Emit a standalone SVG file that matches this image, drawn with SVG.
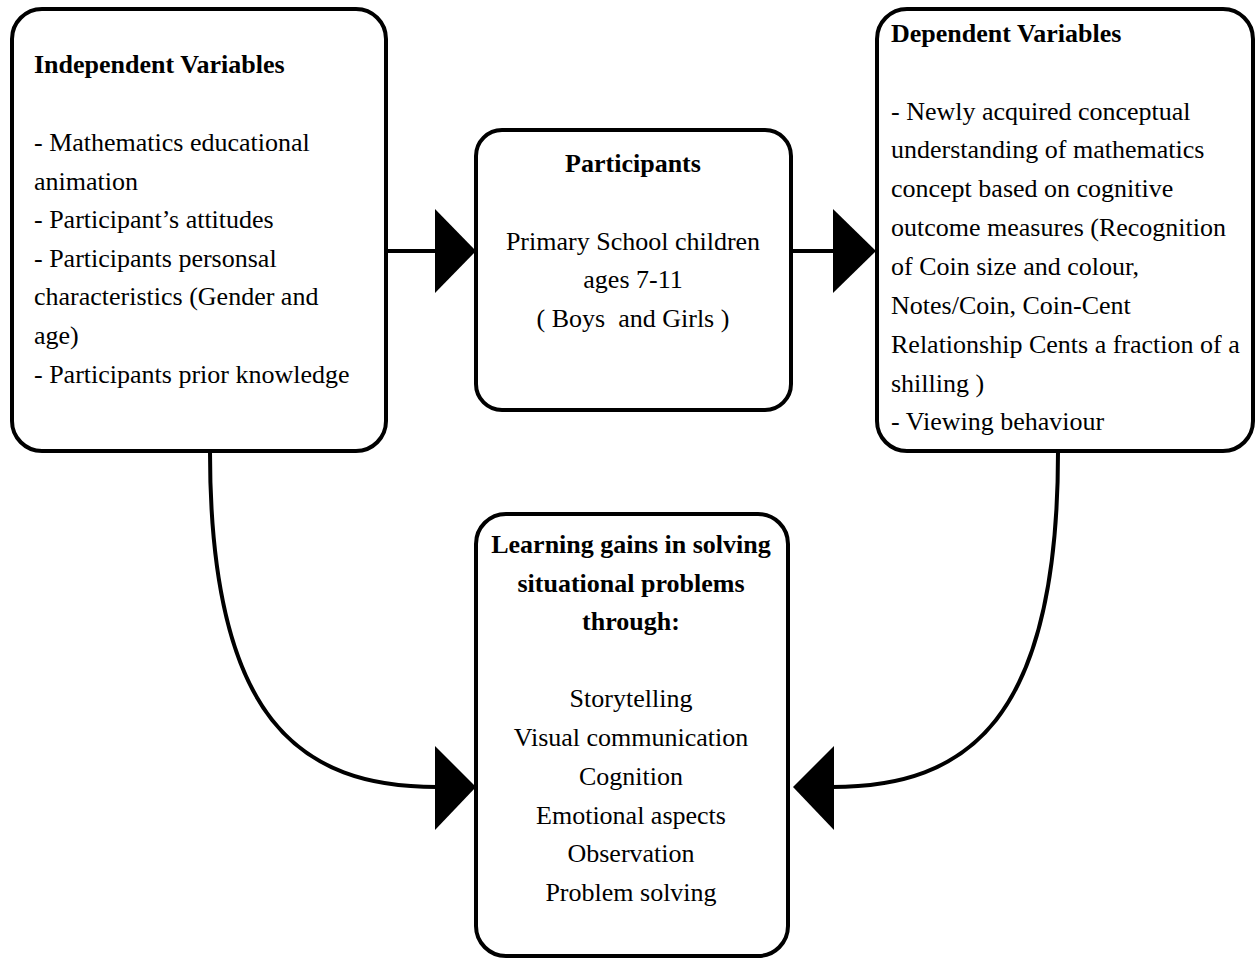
<svg xmlns="http://www.w3.org/2000/svg" width="1257" height="959" viewBox="0 0 1257 959">
<style>
.box{fill:#fff;stroke:#000;stroke-width:4}
.t{font-family:'Liberation Serif','Times New Roman',serif;font-size:26px;fill:#000}
.b{font-weight:bold}
.m{text-anchor:middle}
.c{fill:none;stroke:#000;stroke-width:4}
.ah{fill:#000}
</style>
<rect width="1257" height="959" fill="#fff"/>
<g id="connectors">
<line class="c" x1="386" y1="251" x2="437" y2="251"/>
<polygon class="ah" points="435,209 476,251 435,293"/>
<line class="c" x1="791" y1="251" x2="835" y2="251"/>
<polygon class="ah" points="833,209 876,251 833,293"/>
<path class="c" d="M210,452 C210,720 300,787 437,787"/>
<polygon class="ah" points="435,746 476,787 435,830"/>
<path class="c" d="M1058,452 C1058,720 968,787 832,787"/>
<polygon class="ah" points="834,746 793,787 834,830"/>
</g>
<g id="independent">
<rect class="box" x="12" y="9" width="374" height="442" rx="30"/>
<text class="t b" x="34" y="73">Independent Variables</text>
<text class="t" x="34" y="151">- Mathematics educational</text>
<text class="t" x="34" y="190">animation</text>
<text class="t" x="34" y="228">- Participant’s attitudes</text>
<text class="t" x="34" y="267">- Participants personsal</text>
<text class="t" x="34" y="305">characteristics (Gender and</text>
<text class="t" x="34" y="344">age)</text>
<text class="t" x="34" y="383">- Participants prior knowledge</text>
</g>
<g id="participants">
<rect class="box" x="476" y="130" width="315" height="280" rx="26"/>
<text class="t b m" x="633" y="172">Participants</text>
<text class="t m" x="633" y="250">Primary School children</text>
<text class="t m" x="633" y="288">ages 7-11</text>
<text class="t m" x="633" y="327" xml:space="preserve">( Boys  and Girls )</text>
</g>
<g id="dependent">
<rect class="box" x="877" y="9" width="376" height="442" rx="30"/>
<text class="t b" x="891" y="42">Dependent Variables</text>
<text class="t" x="891" y="120">- Newly acquired conceptual</text>
<text class="t" x="891" y="158">understanding of mathematics</text>
<text class="t" x="891" y="197">concept based on cognitive</text>
<text class="t" x="891" y="236">outcome measures (Recognition</text>
<text class="t" x="891" y="275">of Coin size and colour,</text>
<text class="t" x="891" y="314">Notes/Coin, Coin-Cent</text>
<text class="t" x="891" y="353">Relationship Cents a fraction of a</text>
<text class="t" x="891" y="392">shilling )</text>
<text class="t" x="891" y="430">- Viewing behaviour</text>
</g>
<g id="learning">
<rect class="box" x="476" y="514" width="312" height="442" rx="30"/>
<text class="t b m" x="631" y="553">Learning gains in solving</text>
<text class="t b m" x="631" y="592">situational problems</text>
<text class="t b m" x="631" y="630">through:</text>
<text class="t m" x="631" y="707">Storytelling</text>
<text class="t m" x="631" y="746">Visual communication</text>
<text class="t m" x="631" y="785">Cognition</text>
<text class="t m" x="631" y="824">Emotional aspects</text>
<text class="t m" x="631" y="862">Observation</text>
<text class="t m" x="631" y="901">Problem solving</text>
</g>
</svg>
